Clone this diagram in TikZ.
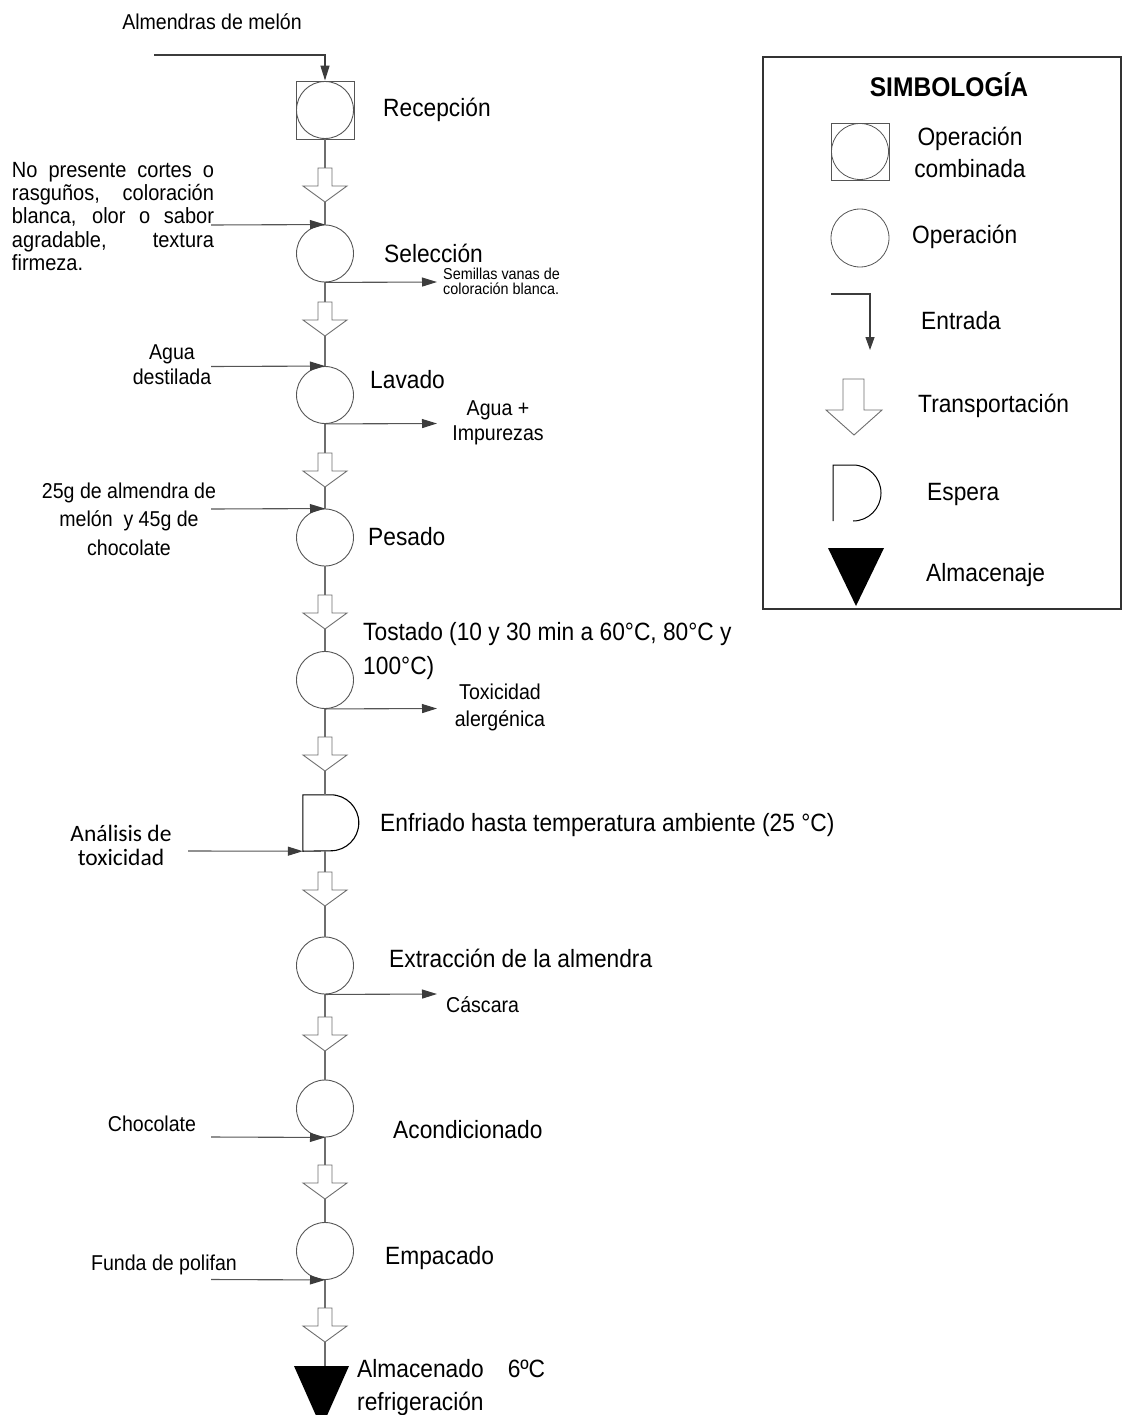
\documentclass[tikz,border=0pt]{standalone}
\usepackage{fontspec}
\setmainfont[FakeStretch=0.91]{Liberation Sans}
\newfontfamily\calibrifont{Carlito}
\usetikzlibrary{arrows.meta}
\definecolor{linegrey}{HTML}{555555}
\definecolor{axisgrey}{HTML}{6E6E6E}
\definecolor{tipgrey}{HTML}{3C3C3C}
\tolerance=10000 \hyphenpenalty=10000
\tikzset{every node/.style={font=\fontsize{25}{30}\selectfont},
  opcirc/.style={circle,draw=linegrey,line width=0.9pt,minimum size=57pt,inner sep=0pt},
  opsquare/.style={rectangle,draw=linegrey,line width=0.9pt,minimum size=58pt,inner sep=0pt},
  axisline/.style={draw=axisgrey,line width=1.2pt},
  flow/.style={draw=linegrey,line width=1.1pt,-{Triangle[length=15pt,width=9pt,color=tipgrey]}},
  steplabel/.style={anchor=west,align=left,inner sep=0pt},
  inlabel/.style={align=center,inner sep=0pt,font=\fontsize{21.5}{25}\selectfont},
  transpline/.style={draw=axisgrey,fill=white,line width=0.9pt},
  transp/.pic={
    \draw[transpline] (-7,0) -- (7,0) -- (7,18) -- (22,18) -- (0,34) -- (-22,18)
      -- (-7,18) -- cycle;
    \coordinate (-top) at (0,0);
    \coordinate (-tip) at (0,34);
  }}

\begin{document}
\begin{tikzpicture}[x=1pt,y=-1pt]
  \path[use as bounding box] (0,0) rectangle (1123,1415);
  % process column
  \node[opsquare] (recep) at (325,110) {};
  \draw[linegrey,line width=0.9pt] (recep.center) circle (28.5);
  \foreach \stp/\y in {selec/253.5,lavado/395,pesado/537.5,tostado/680,
      extrac/965.5,acond/1108.5,empac/1251}
    \node[opcirc] (\stp) at (325,\y) {};
  \node[minimum width=44pt,minimum height=56pt,inner sep=0pt] (enfri) at (325,823) {};
  \draw[black,line width=1.1pt] (enfri.north west) -- ++(28,0) arc(-90:90:28)
    -- (enfri.south west) -- cycle;
  \node[inner sep=0pt,minimum size=0pt] (almac) at (325,1366) {};
  \fill[black] (294,1366) -- (349,1366) -- (321.5,1428) -- cycle;
  \foreach \n/\y in {1/168,2/302,3/453,4/595,5/737,6/872,7/1017,8/1165,9/1308}
    \pic (t\n) at (325,\y) {transp};
  \foreach \a/\n/\b in {recep/1/selec,selec/2/lavado,lavado/3/pesado,pesado/4/tostado,
      tostado/5/enfri,enfri/6/extrac,extrac/7/acond,acond/8/empac,empac/9/almac}
    \draw[axisline] (\a.south) -- (t\n-top) (t\n-tip) -- (\b.north);
  % step labels
  \node[steplabel] (recep-l) at (383,110) {Recepción};
  \node[steplabel] (selec-l) at (384,253) {Selección};
  \node[steplabel] (lavado-l) at (370,380) {Lavado};
  \node[steplabel] (pesado-l) at (368,537) {Pesado};
  \node[steplabel,font=\fontsize{25}{33.5}\selectfont] (tostado-l) at (363,651)
    {Tostado (10 y 30 min a 60°C, 80°C y\\100°C)};
  \node[steplabel] (enfri-l) at (380,825) {Enfriado hasta temperatura ambiente (25 °C)};
  \node[steplabel] (extrac-l) at (389,958) {Extracción de la almendra};
  \node[steplabel] (acond-l) at (393,1130) {Acondicionado};
  \node[steplabel] (empac-l) at (385,1258) {Empacado};
  \node[steplabel,font=\fontsize{25}{33}\selectfont] (almac-l) at (357,1388)
    {\makebox[188pt][s]{Almacenado 6ºC}\\refrigeración};
  % inputs
  \node[inlabel] (almend) at (212,22) {Almendras de melón};
  \coordinate (almend-src) at (154,55);
  \draw[flow,draw=tipgrey,line width=1.4pt] (almend-src) -- (almend-src -| recep.north)
    -- (recep.north);
  \node[inlabel,align=justify,text width=202pt,font=\fontsize{22}{23.3}\selectfont]
    (selec-in) at (113,216.5) {No presente cortes o\linebreak rasguños, coloración\linebreak
    blanca, olor o sabor\linebreak agradable, textura\linebreak firmeza.};
  \coordinate (selec-src) at (211,225);
  \draw[flow] (selec-src) -- (selec.north);
  \node[inlabel] (lavado-in) at (172,365) {Agua\\destilada};
  \coordinate (lavado-src) at (211,366.5);
  \draw[flow] (lavado-src) -- (lavado.north);
  \node[inlabel,font=\fontsize{21.5}{28.5}\selectfont] (pesado-in) at (129,519)
    {25g de almendra de\\melón \ y 45g de\\chocolate};
  \coordinate (pesado-src) at (211,509);
  \draw[flow] (pesado-src) -- (pesado.north);
  \node[inlabel,font=\calibrifont\fontsize{23.5}{24}\selectfont] (enfri-in) at (121,845)
    {Análisis de\\toxicidad};
  \coordinate (enfri-src) at (188,851);
  \draw[flow] (enfri-src) -- (enfri.south west);
  \node[inlabel] (acond-in) at (152,1124) {Chocolate};
  \coordinate (acond-src) at (211,1137);
  \draw[flow] (acond-src) -- (acond.south);
  \node[inlabel] (empac-in) at (164,1265) {Funda de polifan};
  \coordinate (empac-src) at (211,1279.5);
  \draw[flow] (empac-src) -- (empac.south);
  % outputs
  \coordinate (selec-out) at (437,282);
  \draw[flow] (selec.south) -- (selec-out);
  \node[steplabel,font=\fontsize{15.8}{15}\selectfont] (selec-o) at (443,281)
    {Semillas vanas de\\coloración blanca.};
  \coordinate (lavado-out) at (437,423.5);
  \draw[flow] (lavado.south) -- (lavado-out);
  \node[inlabel] (lavado-o) at (498,423) {Agua +\\Impurezas};
  \coordinate (tostado-out) at (437,708.5);
  \draw[flow] (tostado.south) -- (tostado-out);
  \node[inlabel,font=\fontsize{21.5}{27}\selectfont] (tostado-o) at (500,707)
    {Toxicidad\\alergénica};
  \coordinate (extrac-out) at (437,994);
  \draw[flow] (extrac.south) -- (extrac-out);
  \node[inlabel,anchor=west] (extrac-o) at (446,1005) {Cáscara};
  % legend
  \draw[black!80,line width=1.3pt] (763,57) rectangle (1121,609);
  \node[font=\bfseries\fontsize{27}{30}\selectfont] (leg-title) at (949,85) {SIMBOLOGÍA};
  \draw[linegrey,line width=0.8pt] (831,123) rectangle (889,180);
  \draw[linegrey,line width=0.8pt] (860,151.5) ellipse (28.5 and 28);
  \node[align=center,font=\fontsize{25}{32}\selectfont] (leg-comb) at (970,152)
    {Operación\\combinada};
  \draw[linegrey,line width=0.8pt] (860,238) circle (29);
  \node[steplabel] (leg-op) at (912,237) {Operación};
  \draw[tipgrey,line width=1.3pt,-{Triangle[length=13pt,width=9pt]}]
    (831,294) -- (870,294) -- (870,350);
  \node[steplabel] (leg-in) at (921,321) {Entrada};
  \draw[transpline] (843,379) -- (864,379) -- (864,410) -- (882,410) -- (854,435)
    -- (826,410) -- (843,410) -- cycle;
  \node[steplabel] (leg-tr) at (918,406) {Transportación};
  \draw[black,line width=1pt] (833,521) -- (833,465) -- (853,465) arc(-90:90:28);
  \node[steplabel] (leg-wait) at (927,494) {Espera};
  \fill[black] (828,548) -- (884,548) -- (856,606) -- cycle;
  \node[steplabel] (leg-store) at (926,575) {Almacenaje};
\end{tikzpicture}
\end{document}
